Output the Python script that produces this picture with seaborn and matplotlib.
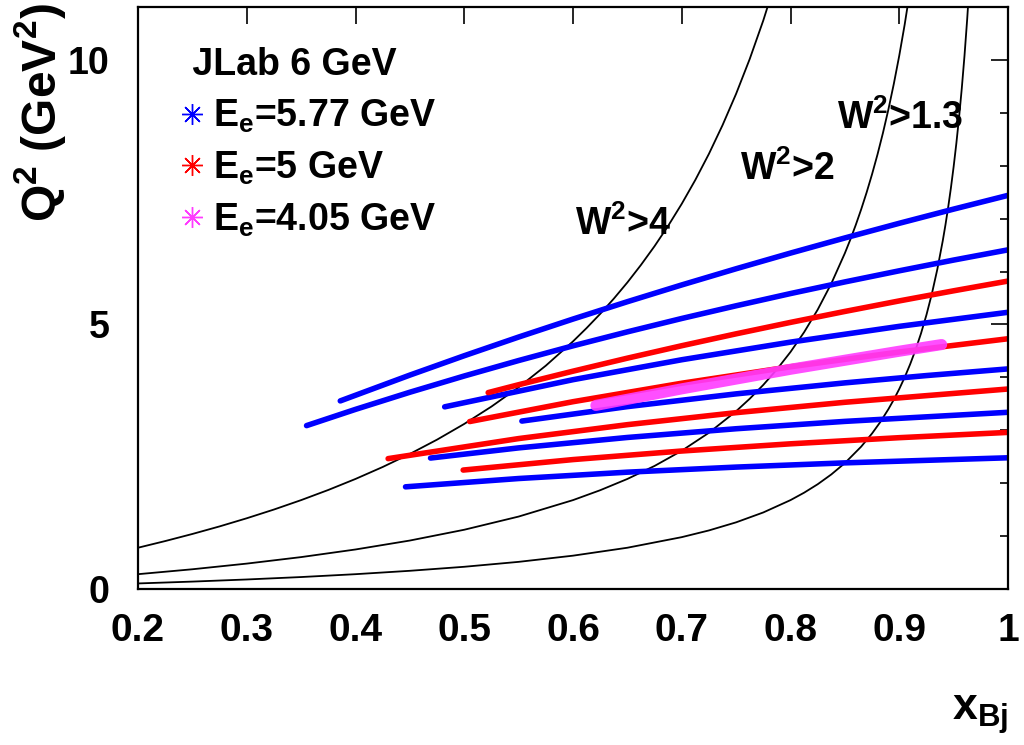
import numpy as np
import pandas as pd
import matplotlib
matplotlib.use("Agg")
import matplotlib.pyplot as plt
from matplotlib.lines import Line2D
from matplotlib.ticker import FixedLocator, FixedFormatter, MultipleLocator
from matplotlib.font_manager import FontProperties
import seaborn as sns

# ---------------- data ----------------
# kinematic boundaries  W^2 = const
w4_x = [0.20, 0.225, 0.25, 0.275, 0.30, 0.325, 0.35, 0.375, 0.40, 0.425, 0.45, 0.475, 0.50, 0.525,
        0.55, 0.575, 0.60, 0.6125, 0.625, 0.6375, 0.65, 0.6625, 0.675, 0.6875, 0.70, 0.7125,
        0.725, 0.7375, 0.75, 0.7625, 0.775, 0.7875]
w4_q2 = [0.78, 0.906, 1.04, 1.183, 1.337, 1.502, 1.680, 1.872, 2.08, 2.306, 2.553, 2.823, 3.12, 3.448,
         3.813, 4.221, 4.68, 4.932, 5.2, 5.487, 5.794, 6.125, 6.48, 6.864, 7.28, 7.732,
         8.225, 8.766, 9.36, 10.017, 10.747, 11.562]

w2_x = [0.20, 0.25, 0.30, 0.35, 0.40, 0.45, 0.50, 0.55, 0.60, 0.625, 0.65, 0.675, 0.70, 0.725,
        0.75, 0.7625, 0.775, 0.7875, 0.80, 0.8125, 0.825, 0.8375, 0.85, 0.855, 0.86, 0.865,
        0.87, 0.875, 0.88, 0.885, 0.89, 0.895, 0.90, 0.905, 0.91]
w2_q2 = [0.28, 0.373, 0.48, 0.603, 0.747, 0.916, 1.12, 1.369, 1.68, 1.867, 2.08, 2.326, 2.613, 2.953,
         3.36, 3.596, 3.858, 4.151, 4.48, 4.853, 5.28, 5.772, 6.347, 6.604, 6.88, 7.176,
         7.495, 7.84, 8.213, 8.619, 9.062, 9.547, 10.08, 10.669, 11.324]

w13_x = [0.20, 0.25, 0.30, 0.35, 0.40, 0.45, 0.50, 0.55, 0.60, 0.65, 0.70, 0.725, 0.75, 0.775,
         0.80, 0.8125, 0.825, 0.8375, 0.85, 0.865, 0.875, 0.8825, 0.89, 0.895, 0.90, 0.905,
         0.91, 0.915, 0.92, 0.925, 0.93, 0.935, 0.94, 0.9425, 0.945, 0.9475, 0.95, 0.9525,
         0.955, 0.9575, 0.96, 0.9625, 0.965]
w13_q2 = [0.105, 0.14, 0.18, 0.226, 0.28, 0.344, 0.42, 0.513, 0.63, 0.78, 0.98, 1.107, 1.26, 1.447,
          1.68, 1.82, 1.98, 2.165, 2.38, 2.691, 2.94, 3.154, 3.398, 3.58, 3.78, 4.001,
          4.247, 4.521, 4.83, 5.18, 5.58, 6.042, 6.58, 6.884, 7.216, 7.58, 7.98, 8.422,
          8.913, 9.462, 10.08, 10.78, 11.58]

w_labels = [r"W$^2$>4", r"W$^2$>2", r"W$^2$>1.3"]

# E = 5.77 GeV settings (blue)
blue_x = [[0.386, 0.45, 0.5, 0.55, 0.6, 0.65, 0.7, 0.75, 0.8, 0.85, 0.9, 0.95, 1.0],
          [0.355, 0.40, 0.45, 0.50, 0.55, 0.60, 0.65, 0.70, 0.75, 0.80, 0.85, 0.90, 0.95, 1.0],
          [0.482, 0.6, 0.7, 0.8, 0.9, 1.0],
          [0.553, 0.65, 0.75, 0.85, 0.925, 1.0],
          [0.469, 0.55, 0.65, 0.75, 0.85, 1.0],
          [0.446, 0.55, 0.65, 0.75, 0.85, 1.0]]
blue_q2 = [[3.555, 4.043, 4.409, 4.762, 5.102, 5.430, 5.747, 6.053, 6.349, 6.635, 6.912, 7.180, 7.44],
           [3.088, 3.395, 3.719, 4.026, 4.318, 4.596, 4.860, 5.113, 5.353, 5.584, 5.804, 6.014, 6.217, 6.41],
           [3.443, 3.956, 4.333, 4.666, 4.964, 5.23],
           [3.174, 3.447, 3.688, 3.896, 4.034, 4.16],
           [2.475, 2.667, 2.864, 3.029, 3.168, 3.34],
           [1.931, 2.088, 2.208, 2.304, 2.384, 2.48]]

# E = 5 GeV settings (red)
red_x = [[0.522, 0.55, 0.6, 0.65, 0.7, 0.75, 0.8, 0.85, 0.9, 0.95, 1.0],
         [0.505, 0.6, 0.7, 0.8, 0.9, 1.0],
         [0.43, 0.55, 0.65, 0.75, 0.85, 1.0],
         [0.499, 0.6, 0.7, 0.8, 0.9, 1.0]]
red_q2 = [[3.712, 3.861, 4.117, 4.363, 4.598, 4.823, 5.039, 5.246, 5.445, 5.636, 5.82],
          [3.165, 3.540, 3.889, 4.200, 4.479, 4.73],
          [2.464, 2.843, 3.106, 3.333, 3.529, 3.78],
          [2.248, 2.446, 2.608, 2.744, 2.860, 2.96]]

# E = 4.05 GeV setting (magenta)
mag_x = [0.621, 0.7, 0.8, 0.9, 0.939]
mag_q2 = [3.470, 3.783, 4.153, 4.494, 4.62]

beam_labels = ["E$_{e}$=5.77 GeV", "E$_{e}$=5 GeV", "E$_{e}$=4.05 GeV"]
beam_colors = ["#0000ff", "#ff0000", "#ff3cff"]
legend_title = "JLab 6 GeV"

x_ticks = [0.2, 0.3, 0.4, 0.5, 0.6, 0.7, 0.8, 0.9, 1.0]
x_tick_labels = ["0.2", "0.3", "0.4", "0.5", "0.6", "0.7", "0.8", "0.9", "1"]
y_ticks = [0, 5, 10]
y_tick_labels = ["0", "5", "10"]

# ---------------- tidy frames ----------------
wdf = pd.concat([
    pd.DataFrame({"x": w4_x, "q2": w4_q2, "curve": "W4"}),
    pd.DataFrame({"x": w2_x, "q2": w2_q2, "curve": "W2"}),
    pd.DataFrame({"x": w13_x, "q2": w13_q2, "curve": "W13"}),
], ignore_index=True)

rows = []
for i, (xs, qs) in enumerate(zip(blue_x, blue_q2)):
    rows.append(pd.DataFrame({"x": xs, "q2": qs, "beam": beam_labels[0], "line": f"b{i}"}))
for i, (xs, qs) in enumerate(zip(red_x, red_q2)):
    rows.append(pd.DataFrame({"x": xs, "q2": qs, "beam": beam_labels[1], "line": f"r{i}"}))
ldf = pd.concat(rows, ignore_index=True)
mdf = pd.DataFrame({"x": mag_x, "q2": mag_q2, "beam": beam_labels[2], "line": "m0"})

# ---------------- style ----------------
sns.set_style("white")
plt.rcParams["font.family"] = ["Liberation Sans", "DejaVu Sans"]
plt.rcParams["font.weight"] = "bold"
plt.rcParams["text.color"] = "black"
plt.rcParams["axes.labelcolor"] = "black"
plt.rcParams["xtick.color"] = "black"
plt.rcParams["ytick.color"] = "black"
plt.rcParams["mathtext.fontset"] = "custom"
plt.rcParams["mathtext.rm"] = "Liberation Sans:bold"
plt.rcParams["mathtext.it"] = "Liberation Sans:bold"
plt.rcParams["mathtext.bf"] = "Liberation Sans:bold"
plt.rcParams["mathtext.sf"] = "Liberation Sans:bold"
plt.rcParams["mathtext.default"] = "rm"

fig = plt.figure(figsize=(10.24, 7.45), dpi=100)
ax = fig.add_axes([138 / 1024, 1 - 589 / 745, (1008 - 138) / 1024, (589 - 7) / 745])

sns.lineplot(data=wdf, x="x", y="q2", units="curve", estimator=None, sort=False,
             color="black", lw=1.3, legend=False, ax=ax)
palette = dict(zip(beam_labels, beam_colors))
sns.lineplot(data=ldf, x="x", y="q2", hue="beam", units="line", estimator=None, sort=False,
             palette=palette, lw=4.0, legend=False, ax=ax)
sns.lineplot(data=mdf, x="x", y="q2", hue="beam", units="line", estimator=None, sort=False,
             palette=palette, lw=8.0, alpha=0.9, legend=False, ax=ax)

ax.set_xlim(0.2, 1.0)
ax.set_ylim(0, 11)
ax.xaxis.set_major_locator(FixedLocator(x_ticks))
ax.xaxis.set_major_formatter(FixedFormatter(x_tick_labels))
ax.yaxis.set_major_locator(FixedLocator(y_ticks))
ax.yaxis.set_major_formatter(FixedFormatter(y_tick_labels))
ax.yaxis.set_minor_locator(MultipleLocator(1))
ax.tick_params(which="both", direction="in", top=True, right=True, width=1.2, color="black",
               labelcolor="black")
ax.tick_params(which="major", length=12)
ax.tick_params(which="minor", length=6)
ax.tick_params(axis="x", which="major", pad=17, labelsize=28)
ax.tick_params(axis="y", which="major", pad=20.5, labelsize=27)
for lab in ax.get_xticklabels() + ax.get_yticklabels():
    lab.set_fontweight("bold")
for sp in ax.spines.values():
    sp.set_color("black")
    sp.set_linewidth(1.6)

ax.set_ylabel(r"Q$^2$ (GeV$^2$)", fontsize=34.5, fontweight="bold", loc="top", color="black")
ax.yaxis.set_label_coords(56 / 1024, 1 - 3 / 745, transform=fig.transFigure)
ax.yaxis.label.set_va("baseline")
ax.set_xlabel(r"x$_{Bj}$", fontsize=32, fontweight="bold", loc="right", color="black")
ax.xaxis.set_label_coords(1008 / 1024, 1 - 720 / 745, transform=fig.transFigure)
ax.xaxis.label.set_va("baseline")

# W^2 annotations
ax.text(0.602, 6.9, w_labels[0], fontsize=27, fontweight="bold", ha="left", va="center")
ax.text(0.7536, 7.93, w_labels[1], fontsize=27, fontweight="bold", ha="left", va="center")
ax.text(0.843, 8.9, w_labels[2], fontsize=27, fontweight="bold", ha="left", va="center")

# legend
handles = [Line2D([], [], ls="none", marker=(8, 2, 0), ms=15, mew=1.0, color=c) for c in beam_colors]
fp = FontProperties(family="Liberation Sans", weight="bold", size=27)
leg = ax.legend(handles, beam_labels, title=" " + legend_title, loc="upper left",
                bbox_to_anchor=(182 / 1024, 1 - 47 / 745), bbox_transform=fig.transFigure,
                frameon=False, prop=fp, title_fontproperties=fp, alignment="left",
                handlelength=0.55, handletextpad=0.27, labelspacing=0.39, borderpad=0,
                borderaxespad=0)

fig.savefig("out.png", dpi=100)
